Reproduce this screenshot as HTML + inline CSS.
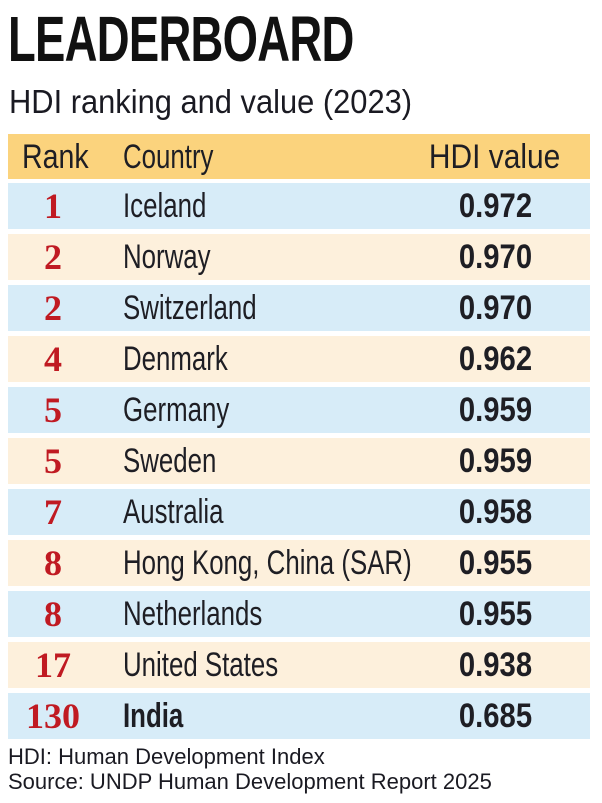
<!DOCTYPE html>
<html><head><meta charset="utf-8"><style>
body{margin:0;width:602px;height:803px;background:#fff;overflow:hidden;font-family:"Liberation Sans",sans-serif;color:#1e1e24;position:relative}
.t{position:absolute;left:8px;top:2px;font-size:64px;font-weight:bold;letter-spacing:-1px;color:#111;transform:scaleX(0.71);transform-origin:left}
.s{position:absolute;left:9px;top:83px;font-size:33px;color:#1a1a22;transform:scaleX(0.935);transform-origin:left}
.row{position:absolute;left:8px;width:582px;height:46px}
.row div{position:absolute;top:0;line-height:46px;font-size:34px;white-space:nowrap}
.r{width:90px;text-align:center;left:0;font-family:"Liberation Serif",serif;font-weight:bold;color:#c01a22;font-size:36px!important}
.c{left:115px;transform:scaleX(0.76);transform-origin:left}
.v{right:58px;font-weight:bold;transform:scaleX(0.86);transform-origin:right}
.f{position:absolute;left:8px;font-size:22px;color:#1a1a22}
</style></head><body>
<div class="t">LEADERBOARD</div>
<div class="s">HDI ranking and value (2023)</div>
<div class="row" style="top:134px;height:45px;background:#fbd37d"><div style="left:14px;transform:scaleX(0.84);transform-origin:left">Rank</div><div class="c">Country</div><div style="right:30px;transform:scaleX(0.88);transform-origin:right">HDI value</div></div>
<div class="row" style="top:183px;background:#d7ecf8"><div class="r">1</div><div class="c">Iceland</div><div class="v">0.972</div></div>
<div class="row" style="top:234px;background:#fdf0dc"><div class="r">2</div><div class="c">Norway</div><div class="v">0.970</div></div>
<div class="row" style="top:285px;background:#d7ecf8"><div class="r">2</div><div class="c">Switzerland</div><div class="v">0.970</div></div>
<div class="row" style="top:336px;background:#fdf0dc"><div class="r">4</div><div class="c">Denmark</div><div class="v">0.962</div></div>
<div class="row" style="top:387px;background:#d7ecf8"><div class="r">5</div><div class="c">Germany</div><div class="v">0.959</div></div>
<div class="row" style="top:438px;background:#fdf0dc"><div class="r">5</div><div class="c">Sweden</div><div class="v">0.959</div></div>
<div class="row" style="top:489px;background:#d7ecf8"><div class="r">7</div><div class="c">Australia</div><div class="v">0.958</div></div>
<div class="row" style="top:540px;background:#fdf0dc"><div class="r">8</div><div class="c">Hong Kong, China (SAR)</div><div class="v">0.955</div></div>
<div class="row" style="top:591px;background:#d7ecf8"><div class="r">8</div><div class="c">Netherlands</div><div class="v">0.955</div></div>
<div class="row" style="top:642px;background:#fdf0dc"><div class="r">17</div><div class="c">United States</div><div class="v">0.938</div></div>
<div class="row" style="top:693px;background:#d7ecf8"><div class="r">130</div><div class="c" style="font-weight:bold">India</div><div class="v">0.685</div></div>
<div class="f" style="top:744px">HDI: Human Development Index</div>
<div class="f" style="top:769px">Source: UNDP Human Development Report 2025</div>
</body></html>
